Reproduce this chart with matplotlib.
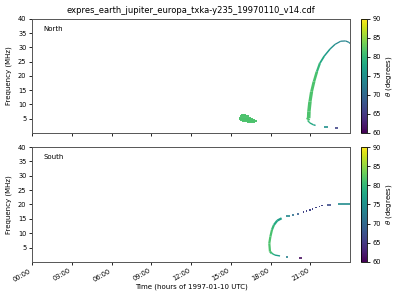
import numpy as np
import matplotlib
matplotlib.use('Agg')
import matplotlib.pyplot as plt
from matplotlib.collections import LineCollection
from matplotlib.colors import Normalize
from matplotlib.cm import ScalarMappable

# North hemisphere: main arc (time in hours, freq in MHz, theta in degrees)
n_arc_t = [20.8, 20.88, 20.9, 20.98, 21.1, 21.28, 21.5, 21.73, 22.06, 22.5, 22.87, 23.3, 23.67, 23.92, 24.0]
n_arc_f = [4.6, 5.2, 7.6, 11.0, 14.5, 18.0, 21.5, 24.5, 27.0, 29.5, 31.1, 32.2, 32.3, 31.8, 31.4]
n_arc_th = [81.5, 81.5, 81.5, 81.5, 81.5, 81.5, 81.0, 79.0, 77.0, 75.5, 74.5, 73.5, 73.5, 73.5, 73.5]
# North lower branch
n_low_t = [20.8, 20.98, 21.23, 21.4]
n_low_f = [4.4, 3.5, 2.9, 2.65]
n_low_th = [81.0, 79.0, 77.5, 76.5]
n_dash_t0 = [22.04, 22.87]
n_dash_t1 = [22.34, 23.1]
n_dash_f = [2.2, 1.85]
n_dash_th = [75.0, 66.0]
# North blob (rows)
n_blob_f = [6.2, 5.8, 5.4, 5.0, 4.6, 4.2, 3.8]
n_blob_t0 = [15.8, 15.68, 15.63, 15.62, 15.7, 15.85, 16.2]
n_blob_t1 = [16.15, 16.35, 16.5, 16.65, 16.8, 16.95, 16.85]
n_blob_th = 81.5

# South hemisphere: main arc
s_arc_t = [18.1, 17.96, 17.91, 17.99, 18.11, 18.26, 18.51, 18.84]
s_arc_f = [3.0, 3.6, 6.5, 8.8, 11.2, 12.9, 14.4, 15.2]
s_arc_th = [80.0, 81.5, 81.5, 81.5, 81.0, 79.0, 77.5, 76.0]
s_low_t = [18.1, 18.34, 18.72]
s_low_f = [3.0, 2.4, 2.1]
s_low_th = [80.0, 77.5, 76.0]
s_dot_t = [20.48, 20.73, 20.98, 21.18, 21.43, 21.68, 21.9]
s_dot_f = [17.4, 17.8, 18.1, 18.5, 18.9, 19.3, 19.6]
s_dot_th = [66.0, 66.0, 66.0, 66.0, 66.0, 66.0, 66.0]
s_dash_t0 = [19.17, 19.17, 19.6, 20.0, 20.15, 22.24, 23.1]
s_dash_t1 = [19.3, 19.47, 19.8, 20.15, 20.4, 22.54, 24.0]
s_dash_f = [1.6, 16.0, 16.5, 16.85, 1.3, 19.9, 20.1]
s_dash_th = [73.0, 74.0, 71.0, 69.0, 61.0, 67.0, 74.5]

hours = list(range(0, 24, 3))
hour_labels = ['%02d:00' % h for h in hours]

cmap = plt.get_cmap('viridis')
norm = Normalize(vmin=60, vmax=90)
fs = 5


def track(ax, t, f, th, lw):
    pts = np.column_stack([t, f])
    segs = np.stack([pts[:-1], pts[1:]], axis=1)
    th = np.asarray(th)
    lc = LineCollection(segs, cmap=cmap, norm=norm, linewidths=lw, capstyle='butt')
    lc.set_array((th[:-1] + th[1:]) / 2)
    ax.add_collection(lc)


def dashes(ax, f, t0, t1, th, lw=1.2):
    ax.hlines(f, t0, t1, colors=cmap(norm(np.asarray(th))), linewidth=lw)


def style(ax, name):
    ax.set_xlim(0, 24)
    ax.set_ylim(0, 40)
    ax.set_yticks(np.arange(5, 41, 5))
    ax.set_xticks(hours)
    ax.set_ylabel('Frequency (MHz)', fontsize=fs)
    ax.tick_params(labelsize=4.8, length=2.5, width=0.6, pad=1.5)
    for s in ax.spines.values():
        s.set_linewidth(0.7)
        s.set_color('#555555')
    ax.text(0.035, 0.91, name, transform=ax.transAxes, fontsize=fs, va='center')


fig = plt.figure(figsize=(4, 3), dpi=100)
ax1 = fig.add_axes([0.08, 0.5567, 0.795, 0.38])
ax2 = fig.add_axes([0.08, 0.1267, 0.795, 0.3833])
cax1 = fig.add_axes([0.9025, 0.5567, 0.016, 0.38])
cax2 = fig.add_axes([0.9025, 0.1267, 0.016, 0.3833])

# North
lw_n = np.array([2.6, 2.6, 2.5, 2.3, 2.1, 1.9, 1.6, 1.3, 1.1, 1.0, 0.9, 0.9, 0.9, 0.9])
track(ax1, n_arc_t, n_arc_f, n_arc_th, lw_n)
track(ax1, n_low_t, n_low_f, n_low_th, 1.0)
dashes(ax1, n_dash_f, n_dash_t0, n_dash_t1, n_dash_th)
dashes(ax1, n_blob_f, n_blob_t0, n_blob_t1, [n_blob_th] * len(n_blob_f), lw=1.4)
style(ax1, 'North')
ax1.tick_params(labelbottom=False)
ax1.set_title('expres_earth_jupiter_europa_txka-y235_19970110_v14.cdf', fontsize=6, pad=4)

# South
track(ax2, s_arc_t, s_arc_f, s_arc_th, 1.6)
track(ax2, s_low_t, s_low_f, s_low_th, 1.0)
ax2.scatter(s_dot_t, s_dot_f, c=s_dot_th, cmap=cmap, norm=norm, marker='s', s=1.0, linewidths=0)
dashes(ax2, s_dash_f, s_dash_t0, s_dash_t1, s_dash_th)
style(ax2, 'South')
ax2.set_xticklabels(hour_labels, rotation=30, ha='right')
ax2.set_xlabel('Time (hours of 1997-01-10 UTC)', fontsize=fs, labelpad=1)

for cax in (cax1, cax2):
    cb = fig.colorbar(ScalarMappable(norm=norm, cmap=cmap), cax=cax, ticks=np.arange(60, 91, 5))
    cb.set_label(r'$\theta$ (degrees)', fontsize=fs, labelpad=2)
    cb.ax.tick_params(labelsize=4.8, length=2.5, width=0.6, pad=1.5)
    cb.outline.set_linewidth(0.6)

fig.savefig('out.png', dpi=100)
